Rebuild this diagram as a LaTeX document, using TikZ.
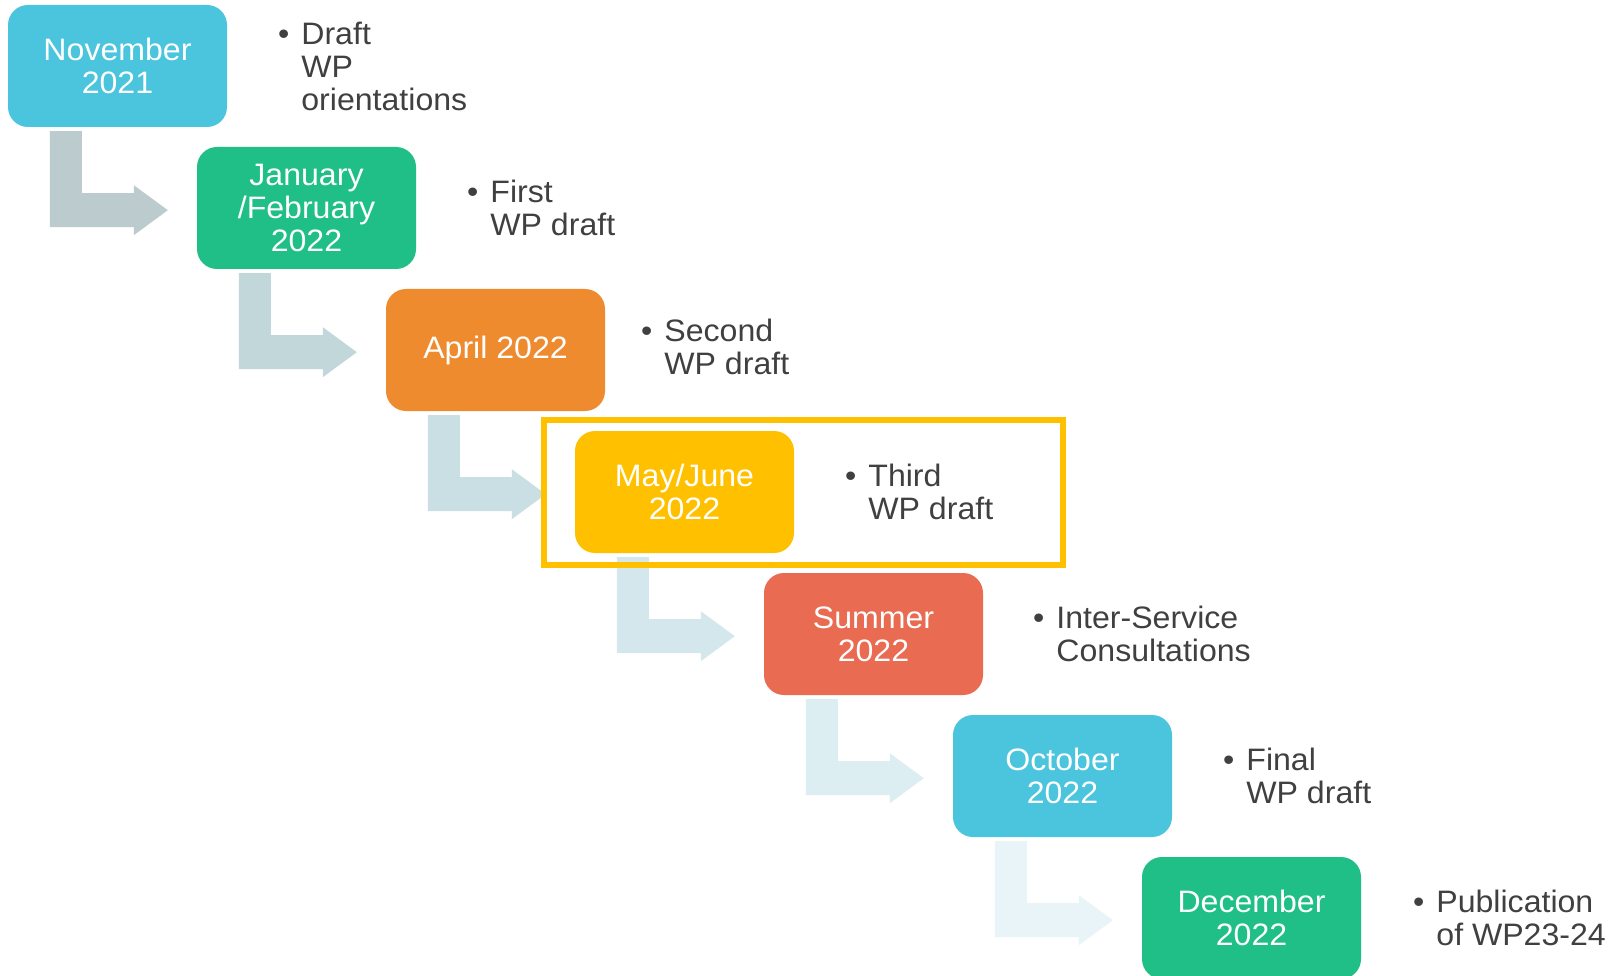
\documentclass[tikz,border=0pt]{standalone}
\usepackage{fontspec}
\setmainfont{Liberation Sans}[FakeStretch=1.035]
\usetikzlibrary{calc}
\definecolor{cyanbox}{HTML}{4BC4DD}
\definecolor{greenbox}{HTML}{1FBF87}
\definecolor{orangebox}{HTML}{EE8B2F}
\definecolor{yellowbox}{HTML}{FFC000}
\definecolor{redbox}{HTML}{E86B52}
\definecolor{txtgray}{HTML}{404040}
\definecolor{arA}{HTML}{BCCBCD}
\definecolor{arB}{HTML}{C2D7DA}
\definecolor{arC}{HTML}{C9DFE3}
\definecolor{arD}{HTML}{D3E7EC}
\definecolor{arE}{HTML}{DDEEF2}
\definecolor{arF}{HTML}{E8F4F8}
\newcommand\bentarrow[2]{%
  \begin{scope}[shift={(#1.south west)}]
    \fill[#2] (42,4) -- (74,4) -- (74,66) -- (126,66) -- (126,58) -- (160,83)
      -- (126,108) -- (126,100) -- (42,100) -- cycle;
  \end{scope}}
\newcommand\bul{\llap{•\hspace{12pt}}}
\begin{document}
\begin{tikzpicture}[x=1pt,y=-1pt,
  stepbox/.style={rounded corners=20pt, minimum width=219pt, minimum height=122pt,
    inner sep=0pt, align=center, text=white, font=\fontsize{31}{33}\selectfont},
  bullettext/.style={anchor=west, align=left, text=txtgray, inner sep=0pt,
    font=\fontsize{31}{33}\selectfont}]
\useasboundingbox (0,0) rectangle (1610,976);
\fill[white] (0,0) rectangle (1610,976);
\clip (0,0) rectangle (1610,976);

% boxes
\node[stepbox, fill=cyanbox]   (b0) at (117.5,66)  {November\\2021};
\node[stepbox, fill=greenbox]  (b1) at (306.5,208) {January\\/February\\2022};
\node[stepbox, fill=orangebox] (b2) at (495.5,350) {April 2022};
\node[stepbox, fill=yellowbox] (b3) at (684.5,492) {May/June\\2022};
\node[stepbox, fill=redbox]    (b4) at (873.5,634) {Summer\\2022};
\node[stepbox, fill=cyanbox]   (b5) at (1062.5,776) {October\\2022};
\node[stepbox, fill=greenbox]  (b6) at (1251.5,918) {December\\2022};

% bent arrows
\bentarrow{b0}{arA}
\bentarrow{b1}{arB}
\bentarrow{b2}{arC}
\bentarrow{b3}{arD}
\bentarrow{b4}{arE}
\bentarrow{b5}{arF}

% bullet texts
\node[bullettext] (t0) at ($(b0.east)+(74,0)$) {\bul Draft\\WP\\orientations};
\node[bullettext] (t1) at ($(b1.east)+(74,0)$) {\bul First\\WP draft};
\node[bullettext] (t2) at ($(b2.east)+(59,-3)$) {\bul Second\\WP draft};
\node[bullettext] (t3) at ($(b3.east)+(74,0)$) {\bul Third\\WP draft};
\node[bullettext] (t4) at ($(b4.east)+(73,0)$) {\bul Inter-Service\\Consultations};
\node[bullettext] (t5) at ($(b5.east)+(74,0)$) {\bul Final\\WP draft};
\node[bullettext] (t6) at ($(b6.east)+(75,0)$) {\bul Publication\\of WP23-24};

% highlight frame
\node[draw=yellowbox, line width=6pt, minimum width=519pt, minimum height=145pt,
  inner sep=0pt] (frame) at (803.5,492.5) {};
\end{tikzpicture}
\end{document}
